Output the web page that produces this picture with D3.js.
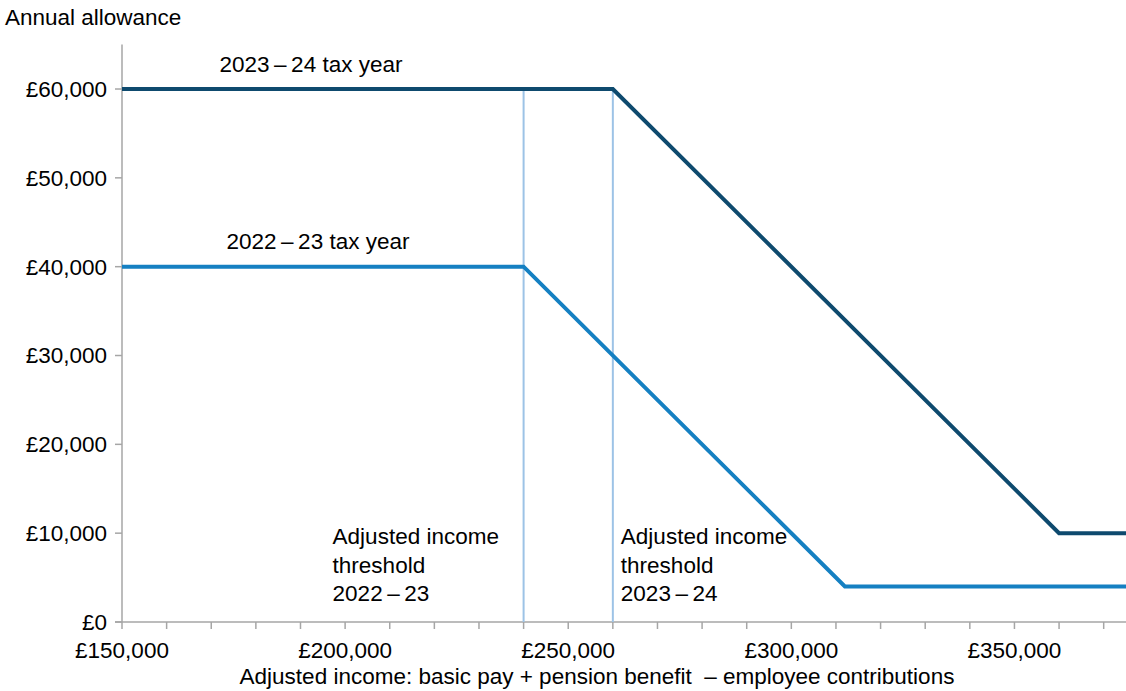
<!DOCTYPE html>
<html>
<head>
<meta charset="utf-8">
<script src="https://cdn.jsdelivr.net/npm/d3@7"></script>
<style>
  html, body { margin: 0; padding: 0; background: #fff; }
  svg { display: block; font-family: "Liberation Sans", Arial, sans-serif; }
</style>
</head>
<body>
<svg id="chart" width="1126" height="691"></svg>
<script>
// ---- Data ----
const income2324 = [150000, 260000, 360000, 375000];
const allowance2324 = [60000, 60000, 10000, 10000];
const income2223 = [150000, 240000, 312000, 375000];
const allowance2223 = [40000, 40000, 4000, 4000];
const thresholds = [240000, 260000];
const thresholdLabels = [["Adjusted income", "threshold", "2022\u2009\u2013\u200923"],
                         ["Adjusted income", "threshold", "2023\u2009\u2013\u200924"]];
const seriesNames = ["2023\u2009\u2013\u200924 tax year", "2022\u2009\u2013\u200923 tax year"];
const xMajorTicks = [150000, 200000, 250000, 300000, 350000];
const xMinorTicks = [150000,160000,170000,180000,190000,200000,210000,220000,230000,240000,250000,
                     260000,270000,280000,290000,300000,310000,320000,330000,340000,350000,360000,370000];
const yTicks = [0, 10000, 20000, 30000, 40000, 50000, 60000];
const yTitle = "Annual allowance";
const xTitle = "Adjusted income: basic pay + pension benefit \u00a0\u2013 employee contributions";

// ---- Layout ----
const svg = d3.select("#chart");
const pLeft = 122, pRight = 1126, pTop = 44.6, pBottom = 622;
const x = d3.scaleLinear().domain([150000, 375000]).range([pLeft, pRight]);
const y = d3.scaleLinear().domain([0, 65000]).range([pBottom, pTop]);
const fmt = v => "£" + d3.format(",")(v);
const axisColor = "#a6a6a6";
const fontSize = 22.5;

// Y axis
svg.append("line").attr("x1", pLeft).attr("x2", pLeft).attr("y1", pTop).attr("y2", pBottom)
  .attr("stroke", axisColor).attr("stroke-width", 1.5);
const yg = svg.append("g");
yg.selectAll("line").data(yTicks).join("line")
  .attr("x1", pLeft - 7).attr("x2", pLeft).attr("y1", d => y(d)).attr("y2", d => y(d))
  .attr("stroke", axisColor).attr("stroke-width", 1.5);
yg.selectAll("text").data(yTicks).join("text")
  .attr("x", 107).attr("y", d => y(d)).attr("dy", "0.35em")
  .attr("text-anchor", "end").attr("font-size", fontSize).attr("fill", "#000")
  .text(fmt);

// X axis
svg.append("line").attr("x1", pLeft - 7).attr("x2", pRight).attr("y1", pBottom).attr("y2", pBottom)
  .attr("stroke", axisColor).attr("stroke-width", 1.5);
const xg = svg.append("g");
xg.selectAll("line").data(xMinorTicks).join("line")
  .attr("x1", d => x(d)).attr("x2", d => x(d)).attr("y1", pBottom).attr("y2", pBottom + 7)
  .attr("stroke", axisColor).attr("stroke-width", 1.5);
xg.selectAll("text").data(xMajorTicks).join("text")
  .attr("x", d => x(d)).attr("y", 658)
  .attr("text-anchor", "middle").attr("font-size", fontSize).attr("fill", "#000")
  .text(fmt);

// Titles
svg.append("text").attr("x", 5).attr("y", 25).attr("font-size", fontSize).attr("fill", "#000").text(yTitle);
svg.append("text").attr("x", 597).attr("y", 684).attr("text-anchor", "middle")
  .attr("font-size", fontSize).attr("fill", "#000").text(xTitle);

// Threshold lines
svg.append("g").selectAll("line").data(thresholds).join("line")
  .attr("x1", d => x(d)).attr("x2", d => x(d))
  .attr("y1", y(60000)).attr("y2", pBottom)
  .attr("stroke", "#9dc3e6").attr("stroke-width", 2);

// Threshold annotations
thresholds.forEach((t, i) => {
  const tx = i === 0 ? x(t) - 191 : x(t) + 8;
  const g = svg.append("text").attr("font-size", fontSize).attr("fill", "#000");
  thresholdLabels[i].forEach((ln, j) => {
    g.append("tspan").attr("x", tx).attr("y", 544 + j * 28.5).text(ln);
  });
});

// Series lines
const line = d3.line().x(d => x(d[0])).y(d => y(d[1]));
const d2324 = income2324.map((v, i) => [v, allowance2324[i]]);
const d2223 = income2223.map((v, i) => [v, allowance2223[i]]);
svg.append("path").datum(d2223).attr("d", line).attr("fill", "none")
  .attr("stroke", "#1580c2").attr("stroke-width", 4).attr("stroke-linejoin", "miter");
svg.append("path").datum(d2324).attr("d", line).attr("fill", "none")
  .attr("stroke", "#0e4a6e").attr("stroke-width", 4).attr("stroke-linejoin", "miter");

// Series labels
svg.append("text").attr("x", 311).attr("y", 72).attr("text-anchor", "middle")
  .attr("font-size", fontSize).attr("fill", "#000").text(seriesNames[0]);
svg.append("text").attr("x", 318).attr("y", 249).attr("text-anchor", "middle")
  .attr("font-size", fontSize).attr("fill", "#000").text(seriesNames[1]);
</script>
</body>
</html>
